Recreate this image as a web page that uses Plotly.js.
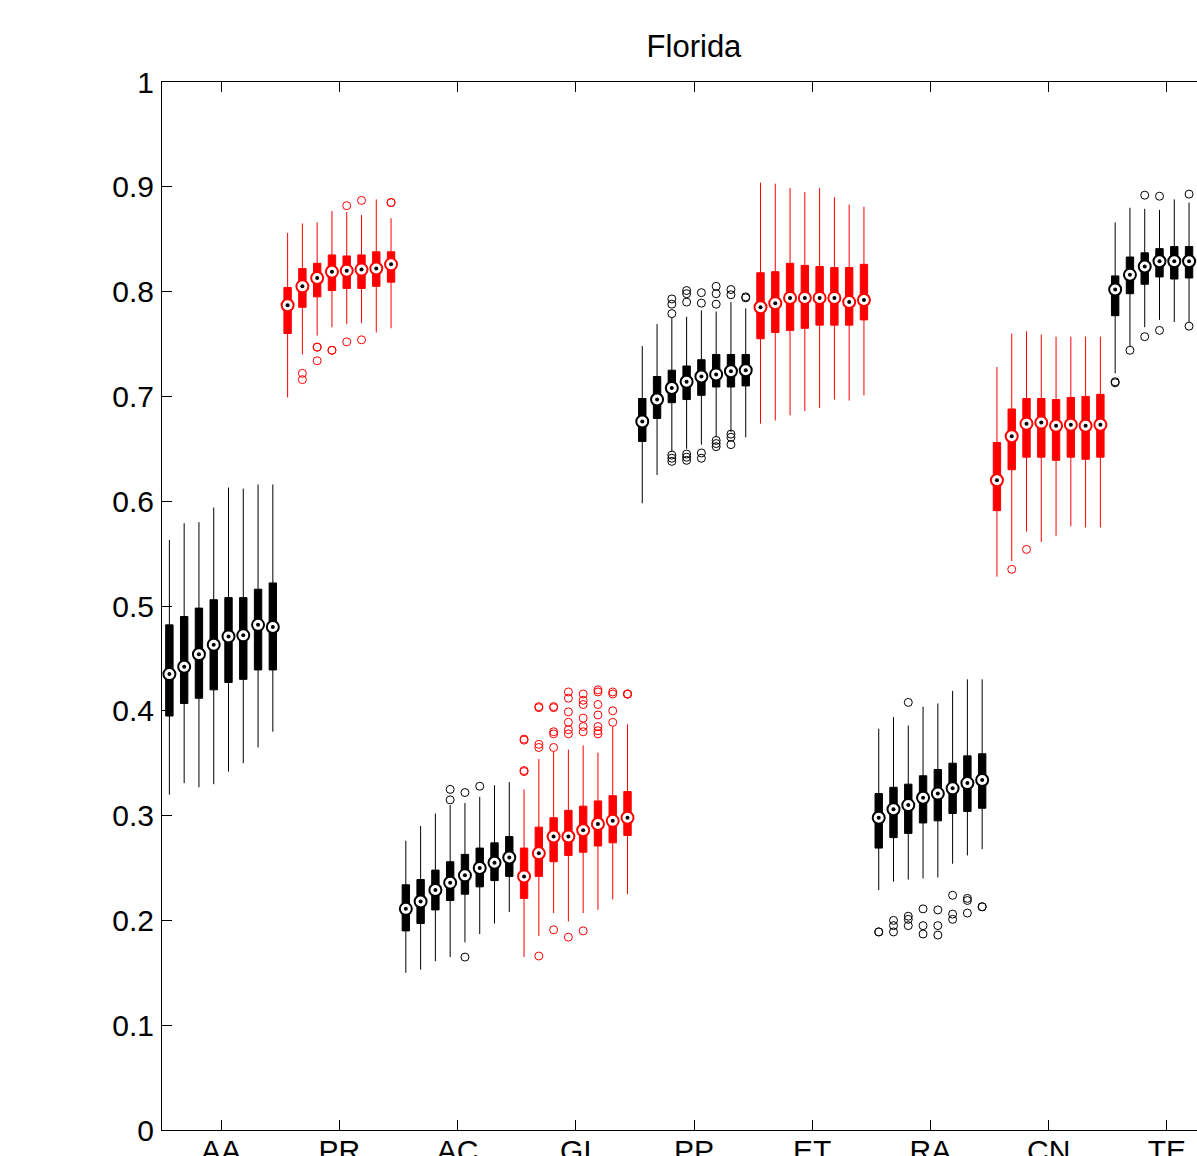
<!DOCTYPE html>
<html>
<head>
<meta charset="utf-8">
<script src="https://cdn.plot.ly/plotly-3.0.1.min.js"></script>
<style>
html, body { margin: 0; padding: 0; overflow: hidden; background: #fff; }
#chart { width: 1300px; height: 1200px; }
</style>
</head>
<body>
<div id="chart"></div>
<script>
// ---- data ----
const groups = ['AA', 'PR', 'AC', 'GI', 'PP', 'ET', 'RA', 'CN', 'TE'];
const groupColors = ['#000000', '#ff0000', '#000000', '#ff0000', '#000000', '#ff0000', '#000000', '#ff0000', '#000000'];
const boxesPerGroup = 8;

// lower whisker end, one row per group (8 boxes each)
const whiskerLow = [
  0.320, 0.331, 0.327, 0.330, 0.342, 0.350, 0.365, 0.380,
  0.699, 0.740, 0.758, 0.766, 0.769, 0.770, 0.761, 0.765,
  0.150, 0.153, 0.161, 0.165, 0.179, 0.187, 0.197, 0.208,
  0.165, 0.185, 0.207, 0.199, 0.207, 0.210, 0.220, 0.225,
  0.598, 0.625, 0.647, 0.650, 0.654, 0.661, 0.666, 0.661,
  0.674, 0.677, 0.682, 0.686, 0.689, 0.697, 0.696, 0.701,
  0.229, 0.237, 0.239, 0.240, 0.241, 0.254, 0.262, 0.268,
  0.528, 0.543, 0.571, 0.561, 0.567, 0.576, 0.575, 0.575,
  0.722, 0.748, 0.766, 0.773, 0.771, 0.771, 0.772, 0.772
];
const quartile1 = [
  0.395, 0.407, 0.412, 0.420, 0.427, 0.430, 0.439, 0.439,
  0.760, 0.785, 0.795, 0.801, 0.803, 0.803, 0.805, 0.809,
  0.190, 0.197, 0.210, 0.219, 0.225, 0.232, 0.238, 0.242,
  0.221, 0.242, 0.256, 0.262, 0.265, 0.271, 0.274, 0.281,
  0.657, 0.679, 0.694, 0.697, 0.701, 0.709, 0.709, 0.710,
  0.755, 0.761, 0.763, 0.765, 0.768, 0.768, 0.768, 0.773,
  0.269, 0.279, 0.283, 0.293, 0.295, 0.302, 0.304, 0.307,
  0.591, 0.630, 0.642, 0.642, 0.639, 0.642, 0.640, 0.642,
  0.777, 0.798, 0.807, 0.814, 0.812, 0.813, 0.813, 0.813
];
const medians = [
  0.435, 0.442, 0.454, 0.463, 0.471, 0.472, 0.482, 0.480,
  0.787, 0.805, 0.813, 0.819, 0.820, 0.821, 0.822, 0.826,
  0.211, 0.218, 0.229, 0.236, 0.243, 0.250, 0.255, 0.260,
  0.242, 0.264, 0.280, 0.280, 0.286, 0.292, 0.295, 0.298,
  0.676, 0.697, 0.708, 0.714, 0.719, 0.721, 0.724, 0.725,
  0.785, 0.789, 0.794, 0.794, 0.794, 0.794, 0.790, 0.792,
  0.298, 0.306, 0.310, 0.317, 0.321, 0.326, 0.331, 0.334,
  0.620, 0.662, 0.674, 0.675, 0.672, 0.673, 0.672, 0.673,
  0.802, 0.816, 0.824, 0.829, 0.829, 0.829, 0.829, 0.829
];
const quartile3 = [
  0.482, 0.490, 0.498, 0.506, 0.508, 0.508, 0.516, 0.522,
  0.804, 0.822, 0.827, 0.835, 0.834, 0.835, 0.838, 0.838,
  0.234, 0.239, 0.248, 0.256, 0.263, 0.269, 0.274, 0.280,
  0.269, 0.289, 0.298, 0.305, 0.309, 0.314, 0.319, 0.323,
  0.698, 0.719, 0.725, 0.729, 0.735, 0.740, 0.740, 0.740,
  0.818, 0.819, 0.827, 0.825, 0.824, 0.823, 0.823, 0.826,
  0.321, 0.327, 0.330, 0.338, 0.344, 0.350, 0.357, 0.359,
  0.656, 0.688, 0.698, 0.698, 0.697, 0.699, 0.700, 0.702,
  0.815, 0.833, 0.837, 0.841, 0.843, 0.843, 0.843, 0.843
];
const whiskerHigh = [
  0.563, 0.579, 0.580, 0.594, 0.613, 0.612, 0.616, 0.616,
  0.856, 0.865, 0.866, 0.877, 0.876, 0.873, 0.888, 0.870,
  0.276, 0.290, 0.302, 0.310, 0.312, 0.318, 0.329, 0.332,
  0.325, 0.354, 0.361, 0.363, 0.367, 0.360, 0.385, 0.387,
  0.748, 0.769, 0.775, 0.776, 0.782, 0.781, 0.790, 0.784,
  0.904, 0.903, 0.899, 0.895, 0.899, 0.890, 0.883, 0.881,
  0.383, 0.394, 0.386, 0.404, 0.407, 0.419, 0.430, 0.430,
  0.728, 0.760, 0.762, 0.759, 0.757, 0.757, 0.757, 0.757,
  0.866, 0.880, 0.879, 0.878, 0.888, 0.885, 0.885, 0.885
];
// outlier values for every box, in the same order
const outliers = [
  [], [], [], [], [], [], [], [],
  [], [0.722, 0.716], [0.747, 0.747, 0.734], [0.744, 0.744], [0.882, 0.752], [0.887, 0.754], [], [0.885, 0.885],
  [], [], [], [0.325, 0.315], [0.322, 0.165], [0.328], [], [],
  [0.343, 0.342, 0.373, 0.372], [0.368, 0.365, 0.404, 0.403, 0.166], [0.365, 0.378, 0.380, 0.403, 0.404, 0.191],
  [0.418, 0.412, 0.399, 0.389, 0.382, 0.378, 0.184], [0.416, 0.410, 0.406, 0.393, 0.385, 0.380, 0.190],
  [0.420, 0.418, 0.406, 0.396, 0.385, 0.381, 0.378], [0.418, 0.416, 0.400, 0.389], [0.416, 0.416, 0.416],
  [], [], [0.793, 0.788, 0.779, 0.644, 0.641, 0.638], [0.801, 0.798, 0.790, 0.645, 0.642, 0.639],
  [0.799, 0.789, 0.646, 0.641], [0.805, 0.798, 0.788, 0.658, 0.655, 0.652], [0.802, 0.797, 0.664, 0.661, 0.654], [0.795, 0.794],
  [], [], [], [], [], [], [], [],
  [0.189, 0.189], [0.200, 0.195, 0.189], [0.408, 0.204, 0.201, 0.195], [0.211, 0.195, 0.187],
  [0.210, 0.195, 0.186], [0.224, 0.206, 0.201], [0.221, 0.219, 0.207], [0.213, 0.213],
  [], [0.535], [0.554], [], [], [], [], [],
  [0.714, 0.713], [0.744], [0.892, 0.757], [0.891, 0.763], [], [0.893, 0.767], [], []
];
const yTickVals = [0, 0.1, 0.2, 0.3, 0.4, 0.5, 0.6, 0.7, 0.8, 0.9, 1];

// ---- build traces ----
const traces = [];
const positions = medians.map((_, i) => i + 1);
const groupCenters = groups.map((_, g) => g * boxesPerGroup + (boxesPerGroup + 1) / 2);

groups.forEach((name, g) => {
  const s = g * boxesPerGroup, e = s + boxesPerGroup;
  const col = groupColors[g];
  traces.push({
    type: 'box',
    x: positions.slice(s, e),
    q1: quartile1.slice(s, e),
    median: medians.slice(s, e),
    q3: quartile3.slice(s, e),
    lowerfence: whiskerLow.slice(s, e),
    upperfence: whiskerHigh.slice(s, e),
    boxpoints: false,
    width: 0.5,
    whiskerwidth: 0,
    fillcolor: col,
    line: { color: col, width: 1 },
    hoverinfo: 'skip',
    showlegend: false
  });
});

groups.forEach((name, g) => {
  const ox = [], oy = [];
  for (let i = g * boxesPerGroup; i < (g + 1) * boxesPerGroup; i++) {
    outliers[i].forEach(v => { ox.push(positions[i]); oy.push(v); });
  }
  if (ox.length) {
    traces.push({
      type: 'scatter', mode: 'markers', x: ox, y: oy,
      marker: { symbol: 'circle-open', size: 8, color: groupColors[g], line: { width: 1, color: groupColors[g] } },
      hoverinfo: 'skip', showlegend: false
    });
  }
});

groups.forEach((name, g) => {
  const s = g * boxesPerGroup, e = s + boxesPerGroup;
  traces.push({
    type: 'scatter', mode: 'markers',
    x: positions.slice(s, e), y: medians.slice(s, e),
    marker: { symbol: 'circle', size: 12, color: '#ffffff', line: { width: 2, color: groupColors[g] } },
    hoverinfo: 'skip', showlegend: false
  });
});

traces.push({
  type: 'scatter', mode: 'markers', x: positions, y: medians,
  marker: { symbol: 'circle', size: 4, color: '#000000', line: { width: 0 } },
  hoverinfo: 'skip', showlegend: false
});

const W = 1300, H = 1200;
const layout = {
  width: W, height: H,
  margin: { l: 162, r: W - 1226, t: 82, b: H - 1130, pad: 0 },
  paper_bgcolor: '#ffffff', plot_bgcolor: '#ffffff',
  font: { family: '"Liberation Sans", Arial, sans-serif', color: '#000000', size: 30 },
  title: {
    text: 'Florida',
    font: { family: '"Liberation Sans", Arial, sans-serif', size: 31, color: '#000000' },
    x: (162 + 1226) / 2 / W, xanchor: 'center', xref: 'container',
    y: 1 - 46 / H, yanchor: 'middle', yref: 'container'
  },
  boxmode: 'overlay',
  showlegend: false,
  xaxis: {
    range: [0.5, 72.5],
    tickmode: 'array', tickvals: groupCenters, ticktext: groups,
    ticks: 'inside', ticklen: 10, tickwidth: 1, tickcolor: '#000',
    showline: true, linecolor: '#000', linewidth: 1, mirror: 'ticks',
    showgrid: false, zeroline: false,
    tickfont: { size: 30 }, ticklabelstandoff: -6
  },
  yaxis: {
    range: [0, 1],
    tickmode: 'array', tickvals: yTickVals, ticktext: yTickVals.map(v => String(v)),
    ticks: 'inside', ticklen: 10, tickwidth: 1, tickcolor: '#000',
    showline: true, linecolor: '#000', linewidth: 1, mirror: 'ticks',
    showgrid: false, zeroline: false,
    tickfont: { size: 30 }, ticklabelstandoff: 1
  }
};

Plotly.newPlot('chart', traces, layout, { staticPlot: true, displayModeBar: false });
</script>
</body>
</html>
